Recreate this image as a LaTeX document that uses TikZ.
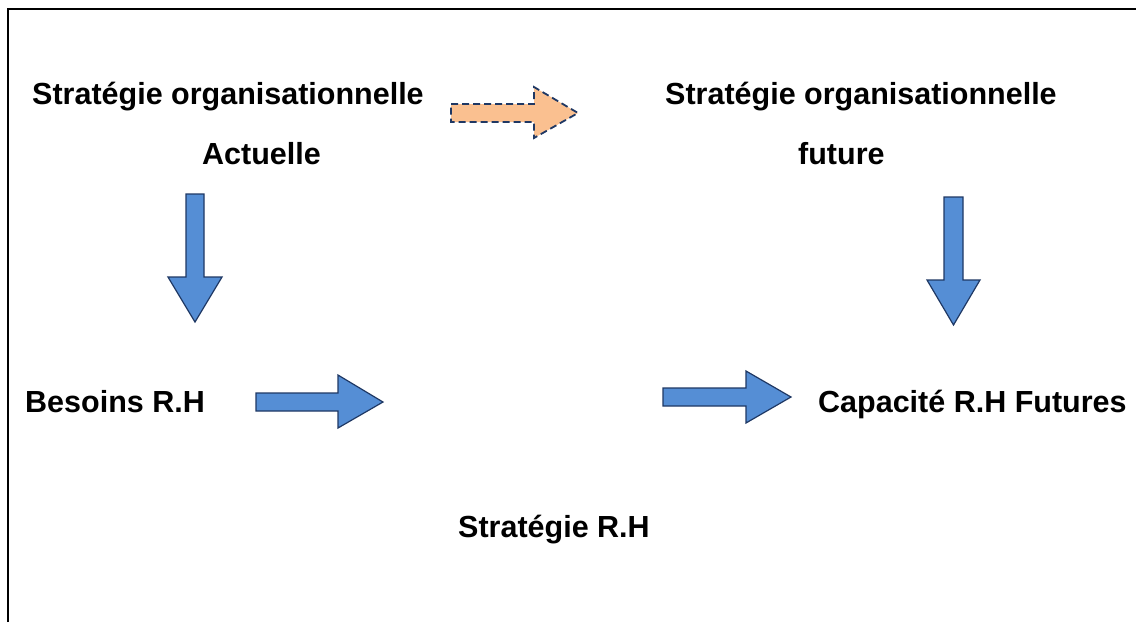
\documentclass[tikz,border=0pt]{standalone}
\usepackage{fontspec}
\setmainfont{Liberation Sans}
\usetikzlibrary{positioning}
\definecolor{arrowblue}{RGB}{85,142,213}
\definecolor{arrowedge}{RGB}{31,56,100}
\definecolor{arrowpeach}{RGB}{250,192,144}
\tikzstyle{label} = [inner sep=0pt, anchor=base west,
    font=\fontsize{30.5}{36}\selectfont\bfseries]
\tikzstyle{bluearrow} = [fill=arrowblue, draw=arrowedge, line width=1.2pt,
    line join=miter]
\tikzstyle{dasharrow} = [fill=arrowpeach, draw=arrowedge, line width=1.8pt,
    dash pattern=on 7pt off 4pt]
\tikzstyle{frame} = [line width=2.6pt]

\begin{document}
\begin{tikzpicture}[x=1pt, y=-1pt]
    % page size and the open frame
    \useasboundingbox (0,0) rectangle (1136,622);
    \draw [frame] (8,622) -- (8,9) -- (1136,9);

    % We start by placing the texts
    \node [label] (orgactuelle) at (32,104) {Stratégie organisationnelle};
    \node [label] (actuelle) at (202,164) {Actuelle};
    \node [label] (orgfuture) at (665,104) {Stratégie organisationnelle};
    \node [label] (future) at (798,164) {future};
    \node [label] (besoins) at (25,412) {Besoins R.H};
    \node [label] (capacite) at (818,412) {Capacité R.H Futures};
    \node [label] (strategierh) at (458,537) {Stratégie R.H};

    % block arrows between the texts
    \draw [dasharrow] (451,104) -- (534,104) -- (534,87) -- (578,113)
        -- (534,138) -- (534,122) -- (451,122) -- cycle;
    \draw [bluearrow] (186,194) -- (204,194) -- (204,277) -- (222,277)
        -- (195,322) -- (168,277) -- (186,277) -- cycle;
    \draw [bluearrow] (944,197) -- (963,197) -- (963,280) -- (980,280)
        -- (953.5,325) -- (927,280) -- (944,280) -- cycle;
    \draw [bluearrow] (256,393) -- (338,393) -- (338,375) -- (383,402)
        -- (338,428) -- (338,411) -- (256,411) -- cycle;
    \draw [bluearrow] (663,388) -- (746,388) -- (746,371) -- (791,397)
        -- (746,423) -- (746,406) -- (663,406) -- cycle;
\end{tikzpicture}
\end{document}
